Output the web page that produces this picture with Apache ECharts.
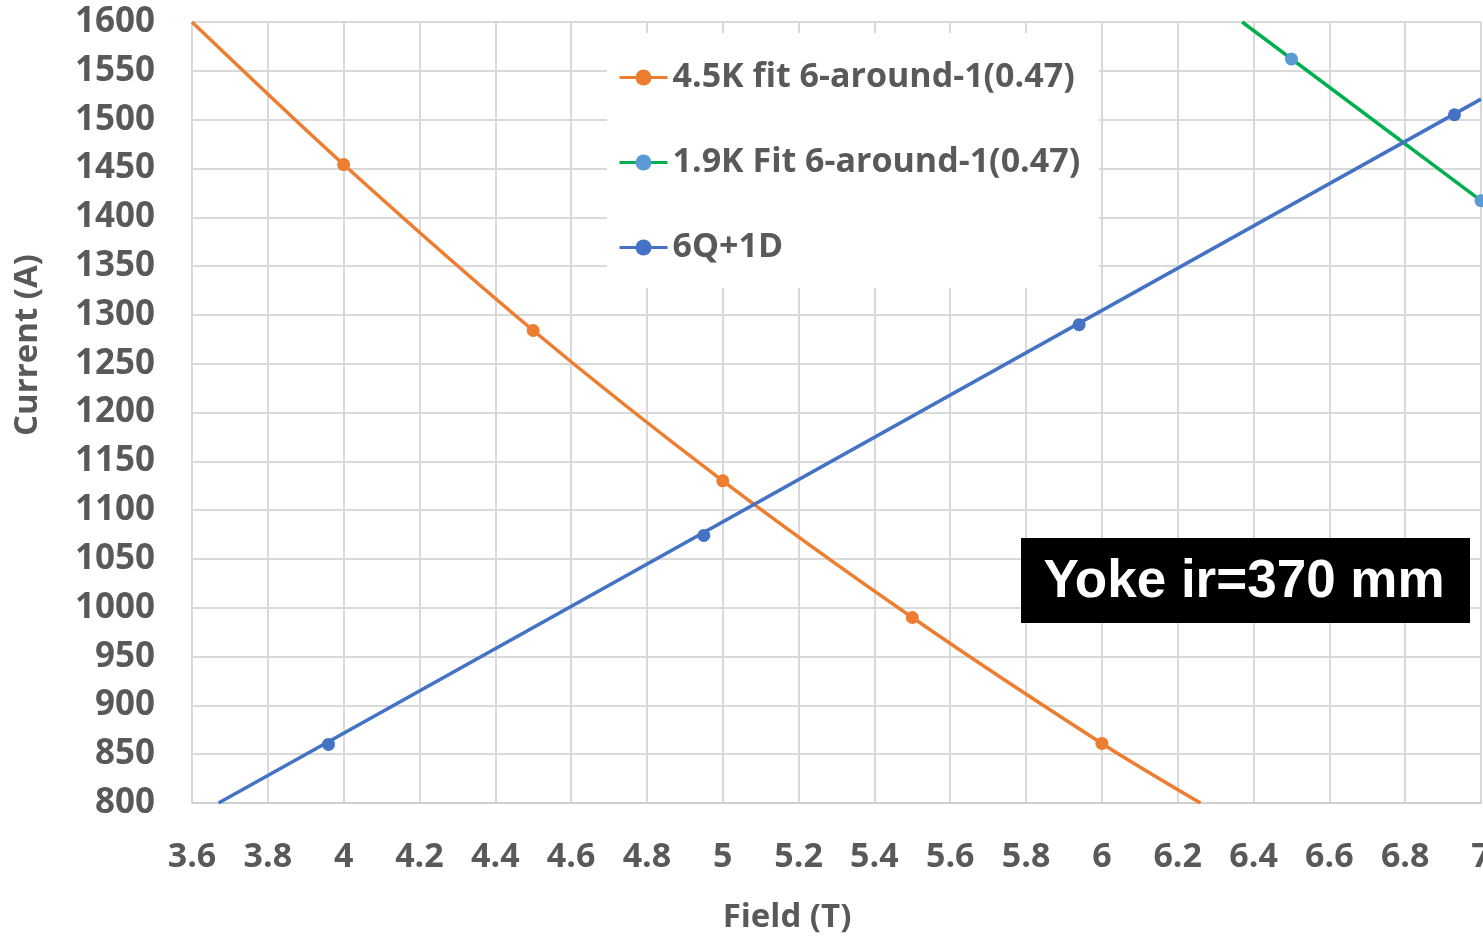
<!DOCTYPE html>
<html>
<head>
<meta charset="utf-8">
<script src="https://cdn.jsdelivr.net/npm/echarts@6/dist/echarts.min.js"></script>
<style>
html,body{margin:0;padding:0;background:#fff;}
#chart{width:1483px;height:938px;}
</style>
</head>
<body>
<div id="chart"></div>
<script>
// ---- data ----
const seriesNames = ['4.5K fit 6-around-1(0.47)', '1.9K Fit 6-around-1(0.47)', '6Q+1D'];
const orangeX = [4.0, 4.5, 5.0, 5.5, 6.0];
const orangeY = [1454, 1284, 1130, 990, 861];
const greenX = [6.5, 7.0];
const greenY = [1562, 1417];
const blueX = [3.96, 4.95, 5.94, 6.93];
const blueY = [860, 1074, 1290, 1505];
// trendlines (extended to plot edges)
const orangeFitX = [3.6, 4.0, 4.5, 5.0, 5.5, 6.0, 6.26];
const orangeFitY = [1600, 1454, 1284, 1130, 990, 861, 800];
const greenFitX = [6.37, 7.0];
const greenFitY = [1600, 1417];
const blueFitX = [3.67, 7.0];
const blueFitY = [800, 1521];
const xTicks = {min: 3.6, max: 7.0, interval: 0.2};
const yTicks = {min: 800, max: 1600, interval: 50};
const boxText = 'Yoke ir=370 mm';
const xTitle = 'Field (T)';
const yTitle = 'Current (A)';

const zip = (xs, ys) => xs.map((x, i) => [x, ys[i]]);
const ORANGE = '#ED7D31', GREEN = '#00B050', LBLUE = '#5B9BD5', BLUE = '#4472C4';
const TXT = '#595959', GRID = '#d9d9d9';
const FONT = '"Open Sans", sans-serif';

const chart = echarts.init(document.getElementById('chart'));
const mainSeries = (name, xs, ys, lineColor, dotColor) => ({
  name, type: 'line', data: zip(xs, ys), symbol: 'circle', symbolSize: 13,
  showSymbol: true, z: 4,
  lineStyle: {color: lineColor, width: 3.5, opacity: 0}, itemStyle: {color: dotColor},
  emphasis: {disabled: true}
});
const fitSeries = (name, xs, ys, color, smooth) => ({
  name, type: 'line', data: zip(xs, ys), showSymbol: false, symbol: 'none', smooth,
  z: 3, lineStyle: {color, width: 3.5}, emphasis: {disabled: true}, silent: true
});

chart.setOption({
  animation: false,
  grid: {left: 192, top: 22, right: 2, bottom: 135, outerBoundsMode: 'none', containLabel: false},
  xAxis: {
    type: 'value', min: xTicks.min, max: xTicks.max, interval: xTicks.interval,
    axisLine: {show: true, lineStyle: {color: '#cfcfcf', width: 2}},
    axisTick: {show: false},
    splitLine: {show: true, lineStyle: {color: GRID, width: 2}},
    axisLabel: {color: TXT, fontFamily: FONT, fontWeight: 'bold', fontSize: 34, margin: 37,
      hideOverlap: false,
      formatter: v => String(Math.round(v * 10) / 10)}
  },
  yAxis: {
    type: 'value', min: yTicks.min, max: yTicks.max, interval: yTicks.interval,
    axisLine: {show: false}, axisTick: {show: false},
    splitLine: {show: true, lineStyle: {color: GRID, width: 2}},
    axisLabel: {color: TXT, fontFamily: FONT, fontWeight: 'bold', fontSize: 35, margin: 37,
      formatter: v => String(v)}
  },
  legend: {
    data: seriesNames, orient: 'vertical', left: 618, top: 59, padding: 0,
    itemWidth: 48, itemHeight: 20, itemGap: 48,
    lineStyle: {width: 3, opacity: 1},
    textStyle: {color: TXT, fontFamily: FONT, fontWeight: 'bold', fontSize: 34, lineHeight: 37},
    selectedMode: false
  },
  graphic: [
    {type: 'rect', left: 607, top: 33, z: 1, shape: {width: 492, height: 255}, style: {fill: '#fff'}},
    {type: 'rect', left: 1021, top: 538, z: 10, shape: {width: 449, height: 85}, style: {fill: '#000'}},
    {type: 'text', z: 11, x: 1244, y: 582, style: {text: boxText, fill: '#fff',
      font: 'bold 53px "Liberation Sans", Arial, sans-serif', align: 'center', verticalAlign: 'middle'}},
    {type: 'text', z: 11, x: 787, y: 918, style: {text: xTitle, fill: TXT,
      font: 'bold 33px "Open Sans", sans-serif', align: 'center', verticalAlign: 'middle'}},
    {type: 'text', z: 11, x: 28, y: 345, rotation: Math.PI / 2, style: {text: yTitle, fill: TXT,
      font: 'bold 33px "Open Sans", sans-serif', align: 'center', verticalAlign: 'middle'}}
  ],
  series: [
    fitSeries('fitO', orangeFitX, orangeFitY, ORANGE, 0.3),
    fitSeries('fitG', greenFitX, greenFitY, GREEN, false),
    fitSeries('fitB', blueFitX, blueFitY, BLUE, false),
    mainSeries(seriesNames[0], orangeX, orangeY, ORANGE, ORANGE),
    mainSeries(seriesNames[1], greenX, greenY, GREEN, LBLUE),
    mainSeries(seriesNames[2], blueX, blueY, BLUE, BLUE)
  ]
});
</script>
</body>
</html>
